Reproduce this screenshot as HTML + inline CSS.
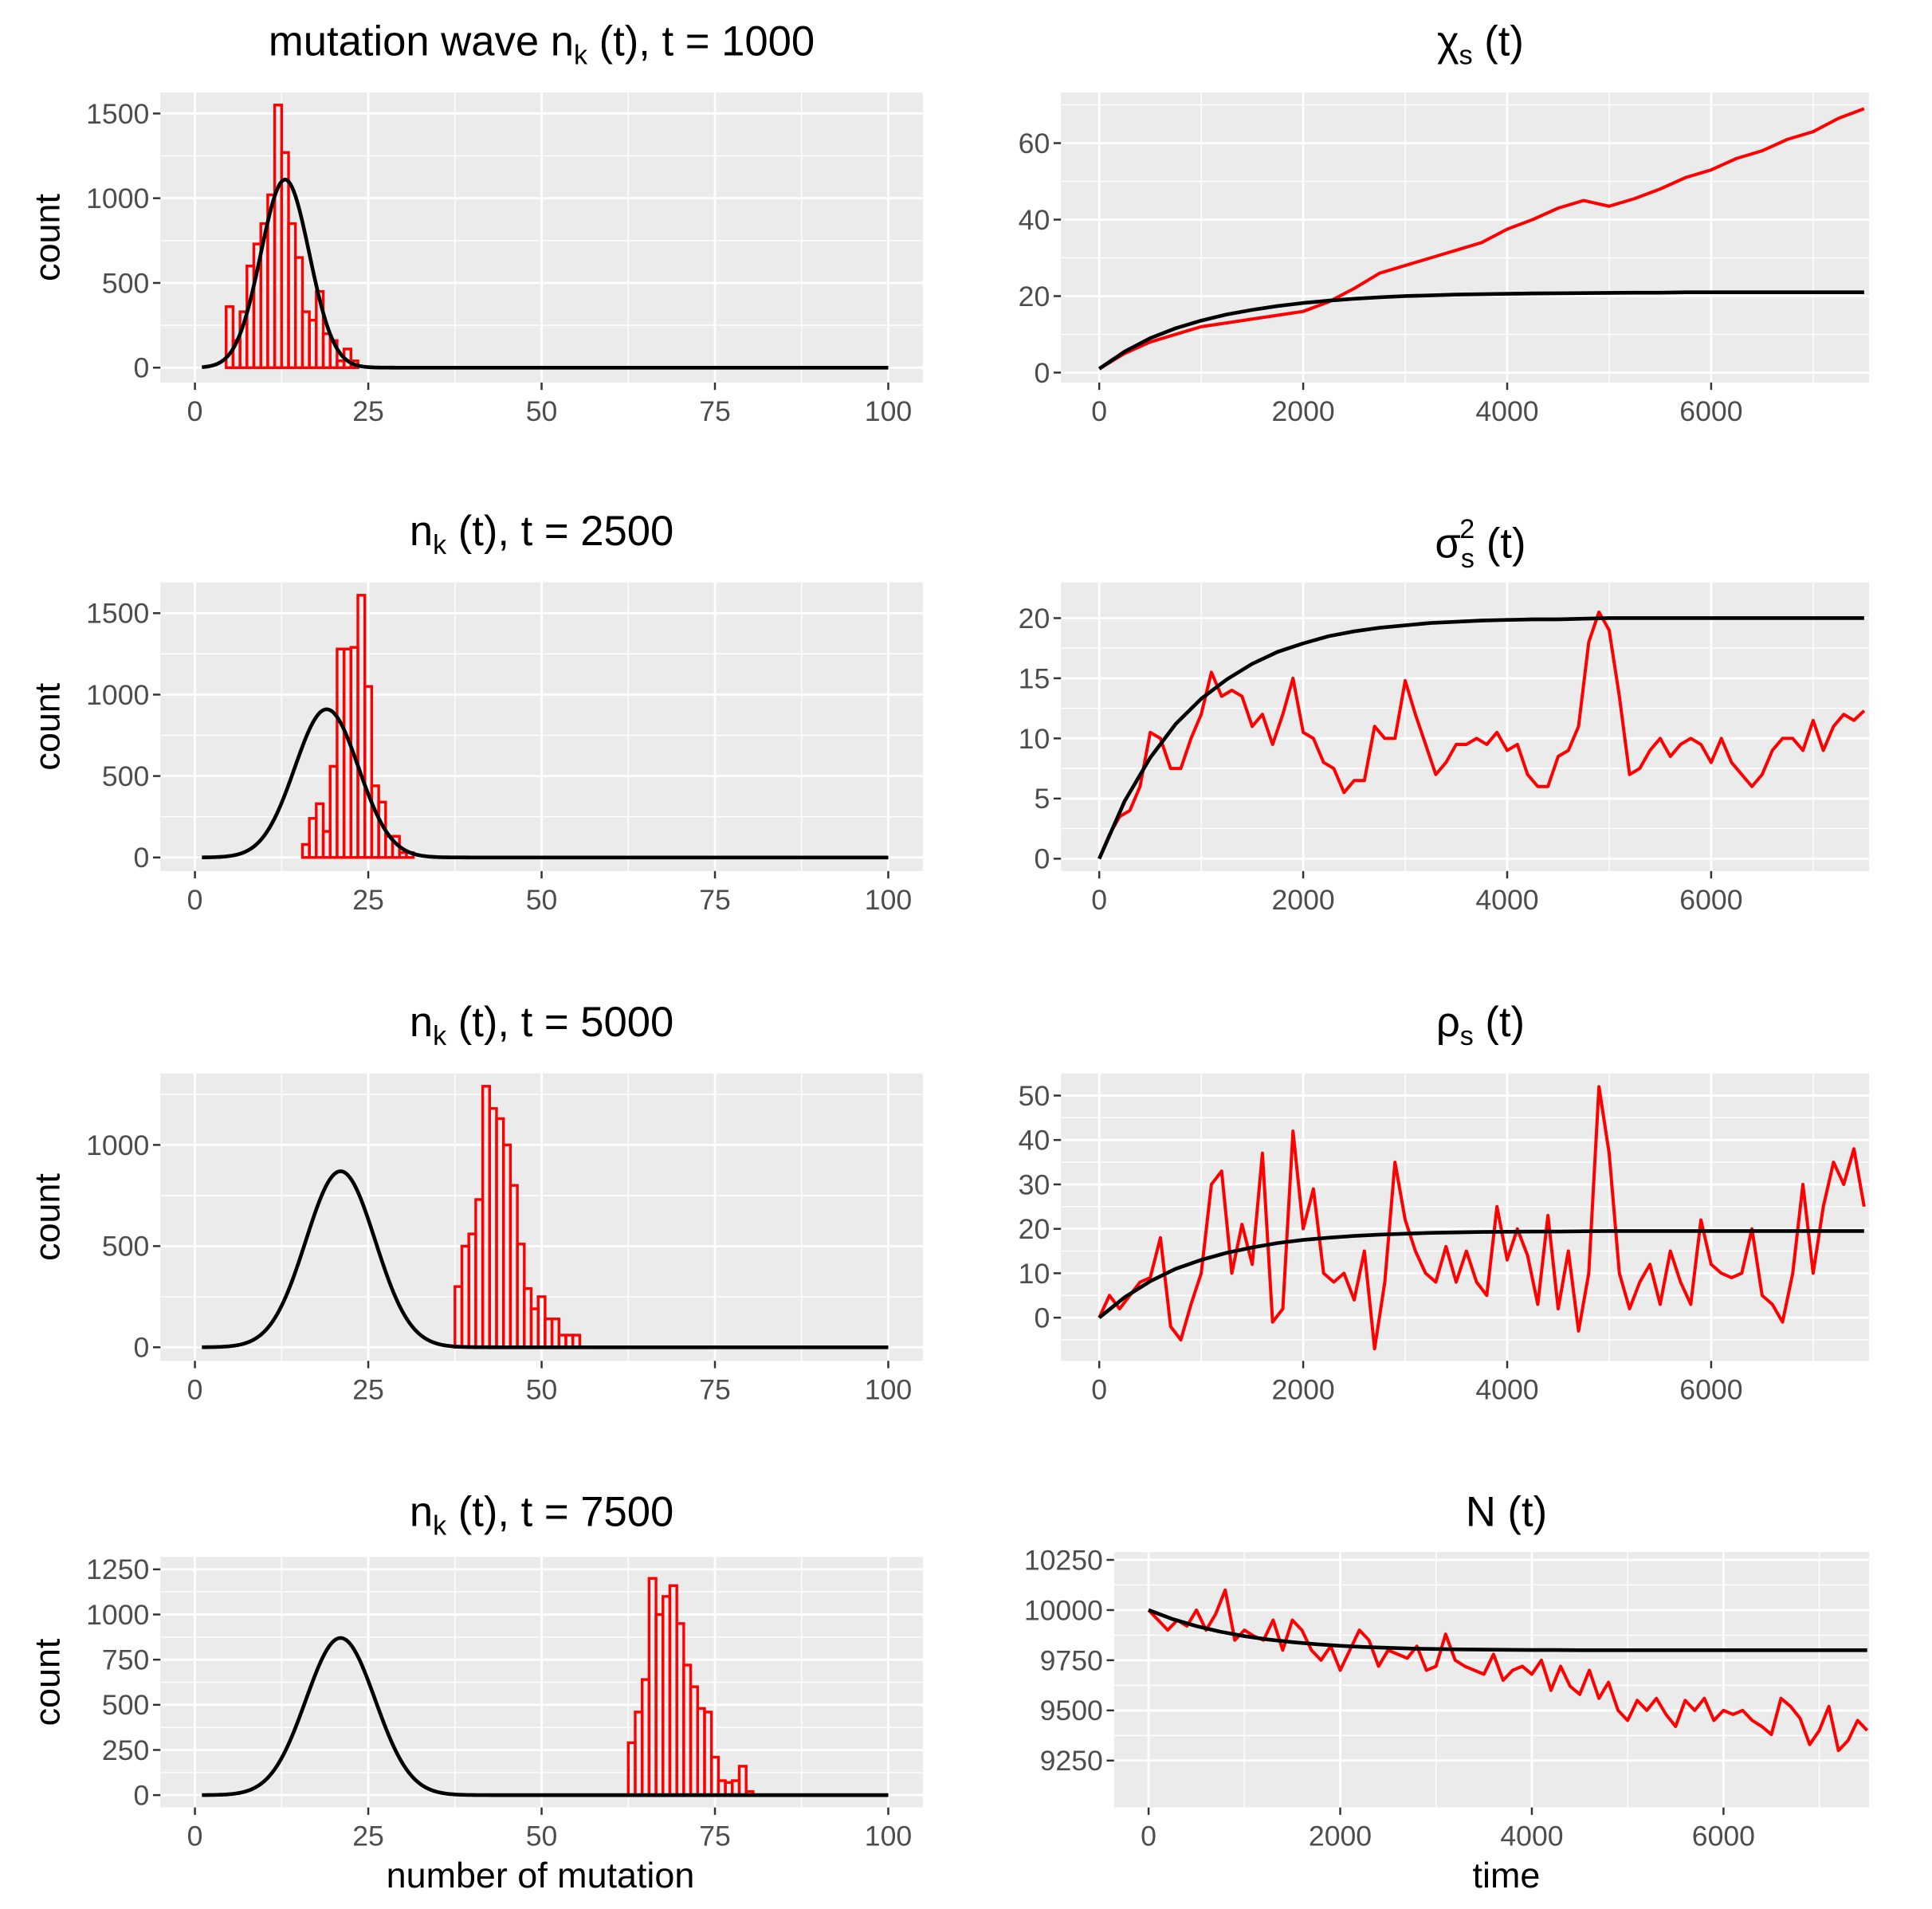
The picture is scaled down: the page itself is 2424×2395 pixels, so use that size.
<!DOCTYPE html>
<html><head><meta charset="utf-8">
<style>
html,body{margin:0;padding:0;background:#fff;}
svg{display:block;font-family:"Liberation Sans",Arial,sans-serif;}
</style></head>
<body>
<svg id="fig" width="2424" height="2395" viewBox="0 0 1566 1547.3" xmlns="http://www.w3.org/2000/svg"></svg>
<script>
// ---------- data ----------
const hist1Bins = [5,6,7,8,9,10,11,12,13,14,15,16,17,18,19,20,21,22,23];
const hist1Counts = [360,160,330,600,730,850,1020,1550,1270,850,650,330,280,450,200,160,40,110,40];
const hist2Bins = [16,17,18,19,20,21,22,23,24,25,26,27,28,29,30,31];
const hist2Counts = [80,240,330,160,560,1280,1280,1290,1610,1050,440,340,130,130,30,30];
const hist3Bins = [38,39,40,41,42,43,44,45,46,47,48,49,50,51,52,53,54,55];
const hist3Counts = [300,500,560,730,1290,1180,1130,1000,800,510,290,190,250,140,140,60,60,60];
const hist4Bins = [63,64,65,66,67,68,69,70,71,72,73,74,75,76,77,78,79,80];
const hist4Counts = [290,460,640,1200,1000,1100,1160,950,720,600,480,460,210,80,70,80,160,20];
// theory normal-curve parameters per panel (mean, sd, peak)
const curve1 = [13,3.5,1110];
const curve2 = [19,4.6,910];
const curve3 = [21,5,870];
const curve4 = [21,5,870];

const timeMax = 7500;
const chiRed = [1,5,8,10,12,13,14,15,16,18.5,22,26,28,30,32,34,37.5,40,43,45,43.5,45.5,48,51,53,56,58,61,63,66.5,69];
const chiBlack = [1,5.5,9,11.6,13.6,15.2,16.4,17.4,18.2,18.8,19.3,19.7,20,20.2,20.4,20.5,20.6,20.7,20.75,20.8,20.85,20.9,20.9,21,21,21,21,21,21,21,21];
const sigRed = [0,2,3.5,4,6,10.5,10,7.5,7.5,10,12,15.5,13.5,14,13.5,11,12,9.5,12,15,10.5,10,8,7.5,5.5,6.5,6.5,11,10,10,14.8,12,9.5,7,8,9.5,9.5,10,9.5,10.5,9,9.5,7,6,6,8.5,9,11,18,20.5,19,13.5,7,7.5,9,10,8.5,9.5,10,9.5,8,10,8,7,6,7,9,10,10,9,11.5,9,11,12,11.5,12.3];
const sigBlack = [0,4.8,8.4,11.2,13.3,14.9,16.2,17.2,17.9,18.5,18.9,19.2,19.4,19.6,19.7,19.8,19.85,19.9,19.9,19.95,20,20,20,20,20,20,20,20,20,20,20];
const rhoRed = [0,5,2,5,8,9,18,-2,-5,3,10,30,33,10,21,12,37,-1,2,42,20,29,10,8,10,4,15,-7,8,35,22,15,10,8,16,8,15,8,5,25,13,20,14,3,23,2,15,-3,10,52,37,10,2,8,12,3,15,8,3,22,12,10,9,10,20,5,3,-1,10,30,10,25,35,30,38,25];
const rhoBlack = [0,4.6,8.2,11,13,14.6,15.8,16.8,17.5,18,18.4,18.7,18.9,19.1,19.2,19.3,19.35,19.4,19.4,19.45,19.5,19.5,19.5,19.5,19.5,19.5,19.5,19.5,19.5,19.5,19.5];
const nRed = [10000,9950,9900,9950,9920,10000,9900,9980,10100,9850,9900,9870,9850,9950,9800,9950,9900,9800,9750,9820,9700,9800,9900,9850,9720,9800,9780,9760,9820,9700,9720,9880,9750,9720,9700,9680,9780,9650,9700,9720,9680,9750,9600,9720,9620,9580,9700,9560,9640,9500,9450,9550,9500,9560,9480,9420,9550,9500,9560,9450,9500,9480,9500,9450,9420,9380,9560,9520,9460,9330,9400,9520,9300,9350,9450,9400];
const nBlack = [10000,9955,9920,9892,9870,9853,9840,9830,9822,9816,9812,9808,9806,9804,9803,9802,9801,9801,9800,9800,9800,9800,9800,9800,9800,9800,9800,9800,9800,9800,9800];

const histXTicks = [0,25,50,75,100];
const timeTicks = [0,2000,4000,6000];

// ---------- helpers ----------
const NS = "http://www.w3.org/2000/svg";
const svg = document.getElementById('fig');
const TICK_FS = 23, TITLE_FS = 34, AXIS_FS = 29;
function mk(tag, attrs, parent){
  const e = document.createElementNS(NS, tag);
  for (const k in attrs) e.setAttribute(k, attrs[k]);
  (parent||svg).appendChild(e);
  return e;
}
function lin(d0,d1,r0,r1){ return v => r0 + (v-d0)*(r1-r0)/(d1-d0); }

function panel(name, box, xs, ys, xMajor, xMinor, yMajor, yMinor, yLabels){
  const g = mk('g', {});
  
  
  const bg = mk('rect', {x:box.x0, y:box.y0, width:box.x1-box.x0, height:box.y1-box.y0, fill:'#ebebeb'}, g);
  
  
  xMinor.forEach(v => mk('line',{x1:xs(v),x2:xs(v),y1:box.y0,y2:box.y1,stroke:'#fff','stroke-width':0.9},g));
  yMinor.forEach(v => mk('line',{x1:box.x0,x2:box.x1,y1:ys(v),y2:ys(v),stroke:'#fff','stroke-width':0.9},g));
  xMajor.forEach(v => mk('line',{x1:xs(v),x2:xs(v),y1:box.y0,y2:box.y1,stroke:'#fff','stroke-width':1.8},g));
  yMajor.forEach(v => mk('line',{x1:box.x0,x2:box.x1,y1:ys(v),y2:ys(v),stroke:'#fff','stroke-width':1.8},g));
  const xa = mk('g',{},g);
  
  
  xMajor.forEach(v => {
    mk('line',{x1:xs(v),x2:xs(v),y1:box.y1,y2:box.y1+6,stroke:'#333','stroke-width':1.6},xa);
    const t = mk('text',{x:xs(v),y:box.y1+31,'text-anchor':'middle','font-size':TICK_FS,fill:'#4d4d4d'},xa);
    t.textContent = v;
  });
  const ya = mk('g',{},g);
  
  
  yMajor.forEach((v,i) => {
    mk('line',{x1:box.x0-6,x2:box.x0,y1:ys(v),y2:ys(v),stroke:'#333','stroke-width':1.6},ya);
    const t = mk('text',{x:box.x0-9,y:ys(v)+8,'text-anchor':'end','font-size':TICK_FS,fill:'#4d4d4d'},ya);
    t.textContent = yLabels ? yLabels[i] : v;
  });
  return g;
}
function title(parts, cx, cy){
  const t = mk('text',{x:cx,y:cy,'text-anchor':'middle','font-size':TITLE_FS,fill:'#000'});
  
  
  parts.forEach(p => {
    const s = mk('tspan',{},t);
    if (p.sub) { s.setAttribute('font-size',22); s.setAttribute('dy',7); }
    if (p.back) { s.setAttribute('dy',-7); }
    s.textContent = p.t;
  });
  return t;
}
function countLabel(cy){
  const t = mk('text',{x:0,y:0,transform:`translate(48,${cy}) rotate(-90)`,'text-anchor':'middle','font-size':AXIS_FS,fill:'#000'});
  
  
  t.textContent = 'count';
}

// ---------- histogram panels ----------
function histPanel(idx, box, y0px, yRefVal, yRefPx, bins, counts, curve, yMajor, yMinor, titleParts, titleY){
  const xs = lin(0,100,158,720);
  const ys = lin(0,yRefVal,y0px,yRefPx);
  const g = panel('histogram-panel-'+idx, box, xs, ys, histXTicks, [12.5,37.5,62.5,87.5], yMajor, yMinor);
  bins.forEach((b,i) => {
    const r = mk('rect',{x:xs(b-0.5),y:ys(counts[i]),width:xs(b+0.5)-xs(b-0.5),height:ys(0)-ys(counts[i]),fill:'none',stroke:'#ff0000','stroke-width':2.2},g);
    
    
  });
  let d = '';
  for (let x=1; x<=100; x+=0.25){
    const v = curve[2]*Math.exp(-0.5*Math.pow((x-curve[0])/curve[1],2));
    d += (d?'L':'M') + xs(x).toFixed(2) + ',' + ys(v).toFixed(2);
  }
  const p = mk('path',{d:d,fill:'none',stroke:'#000','stroke-width':3},g);
  
  
  title(titleParts, 439, titleY);
  countLabel((box.y0+box.y1)/2);
}
histPanel(1,{x0:130,x1:748,y0:75,y1:310},298,1500,92,hist1Bins,hist1Counts,curve1,[0,500,1000,1500],[250,750,1250],
  [{t:'mutation wave n'},{t:'k',sub:1},{t:' (t), t = 1000',back:1}],45);
histPanel(2,{x0:130,x1:748,y0:472,y1:706},695,1500,497,hist2Bins,hist2Counts,curve2,[0,500,1000,1500],[250,750,1250],
  [{t:'n'},{t:'k',sub:1},{t:' (t), t = 2500',back:1}],442);
histPanel(3,{x0:130,x1:748,y0:870,y1:1103},1092,1000,928,hist3Bins,hist3Counts,curve3,[0,500,1000],[250,750,1250],
  [{t:'n'},{t:'k',sub:1},{t:' (t), t = 5000',back:1}],840);
histPanel(4,{x0:130,x1:748,y0:1262,y1:1465},1455,1250,1272,hist4Bins,hist4Counts,curve4,[0,250,500,750,1000,1250],[125,375,625,875,1125],
  [{t:'n'},{t:'k',sub:1},{t:' (t), t = 7500',back:1}],1237);

// ---------- time series panels ----------
function tsPanel(idx, box, t0px, t6px, yA, yApx, yB, yBpx, red, black, yMajor, yMinor, yLabels){
  const xs = lin(0,6000,t0px,t6px);
  const ys = lin(yA,yB,yApx,yBpx);
  const g = panel('timeseries-panel-'+idx, box, xs, ys, timeTicks, [1000,3000,5000,7000], yMajor, yMinor, yLabels);
  const line = (arr, col, w, nm) => {
    const step = timeMax/(arr.length-1);
    let d = '';
    arr.forEach((v,i) => { d += (i?'L':'M') + xs(i*step).toFixed(2) + ',' + ys(v).toFixed(2); });
    const p = mk('path',{d:d,fill:'none',stroke:col,'stroke-width':w,'stroke-linejoin':'round'},g);
    
    
  };
  line(red,'#ff0000',2.6,'simulation-line');
  line(black,'#000',3,'theory-line');
}
tsPanel(1,{x0:860,x1:1515,y0:75,y1:310},891,1387,0,302,60,116,chiRed,chiBlack,[0,20,40,60],[10,30,50,70]);
title([{t:'χ'},{t:'s',sub:1},{t:' (t)',back:1}],1200,45);
tsPanel(2,{x0:860,x1:1515,y0:472,y1:706},891,1387,0,696,20,501,sigRed,sigBlack,[0,5,10,15,20],[2.5,7.5,12.5,17.5]);
(function(){
  const t = mk('text',{x:1200,y:452,'text-anchor':'middle','font-size':TITLE_FS,fill:'#000'});
  
  
  const a = mk('tspan',{},t); a.textContent='σ';
  const b = mk('tspan',{'font-size':22,dy:8},t); b.textContent='s';
  const c = mk('tspan',{'font-size':22,dx:-12,dy:-24},t); c.textContent='2';
  const d = mk('tspan',{dy:16},t); d.textContent=' (t)';
})();
tsPanel(3,{x0:860,x1:1515,y0:870,y1:1103},891,1387,0,1068,50,888,rhoRed,rhoBlack,[0,10,20,30,40,50],[-5,5,15,25,35,45]);
title([{t:'ρ'},{t:'s',sub:1},{t:' (t)',back:1}],1200,840);
tsPanel(4,{x0:903,x1:1515,y0:1258,y1:1465},931,1397,10000,1305,9250,1427,nRed,nBlack,[9250,9500,9750,10000,10250],[9375,9625,9875,10125]);
title([{t:'N (t)'}],1221,1237);

// axis titles
const xt1 = mk('text',{x:438,y:1530,'text-anchor':'middle','font-size':AXIS_FS,fill:'#000'});


xt1.textContent = 'number of mutation';
const xt2 = mk('text',{x:1221,y:1530,'text-anchor':'middle','font-size':AXIS_FS,fill:'#000'});


xt2.textContent = 'time';
</script>
</body></html>
